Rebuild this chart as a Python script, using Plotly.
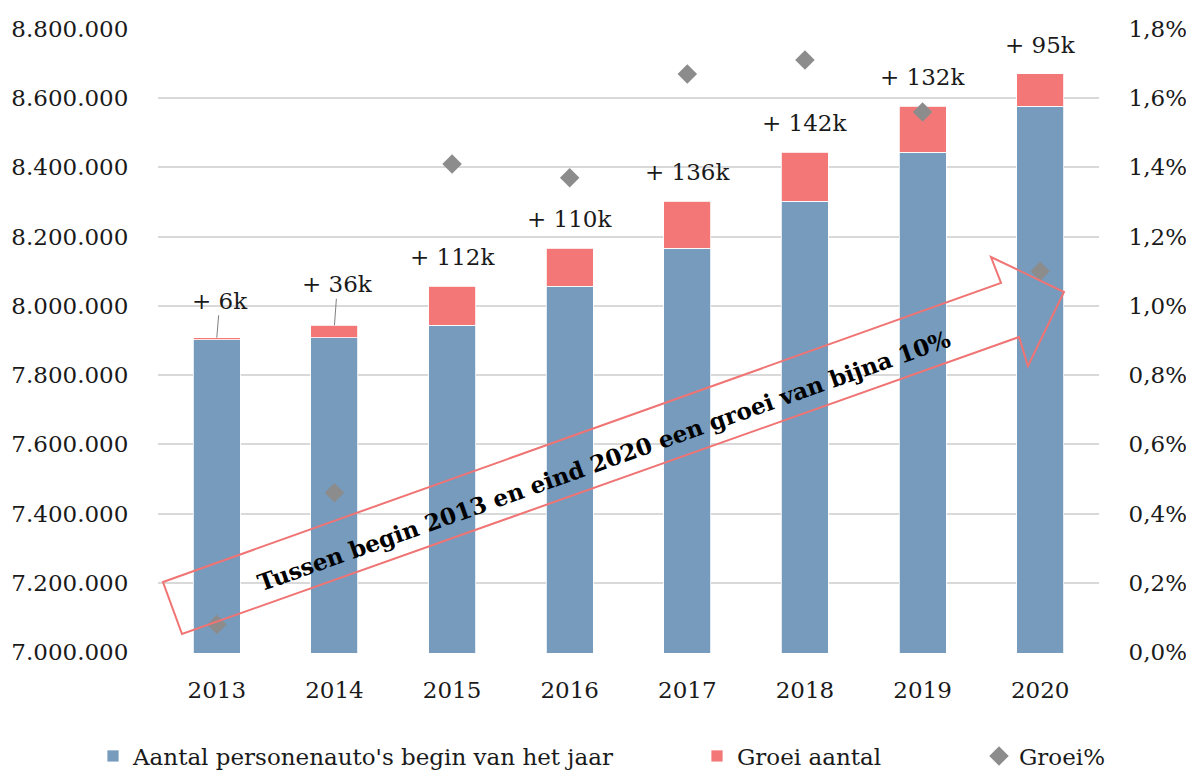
import plotly.graph_objects as go

years = [2013, 2014, 2015, 2016, 2017, 2018, 2019, 2020]
base_cars = [7902000, 7908000, 7944000, 8056000, 8166000, 8302000, 8444000, 8576000]
growth_cars = [6000, 36000, 112000, 110000, 136000, 142000, 132000, 95000]
growth_pct = [0.0008, 0.0046, 0.0141, 0.0137, 0.0167, 0.0171, 0.0156, 0.0110]
growth_labels = ["+ %dk" % round(g / 1000) for g in growth_cars]

FONT = "DejaVu Serif"
TXT = "#1a1a1a"
W, H = 1186, 771
L, R, T, B = 158, 87, 28, 118
PW, PH = W - L - R, H - T - B


def topaper(x, y):
    return (x - L) / PW, (H - B - y) / PH


fig = go.Figure()
fig.add_trace(go.Bar(
    x=years, y=base_cars, name="Aantal personenauto's begin van het jaar",
    width=0.4,
    marker=dict(color="#769bbd", line=dict(color="white", width=0.8)),
    legend="legend",
))
fig.add_trace(go.Bar(
    x=years, y=growth_cars, name="Groei aantal", width=0.4,
    marker=dict(color="#f47777", line=dict(color="white", width=0.8)),
    legend="legend2",
))
fig.add_trace(go.Scatter(
    x=years, y=growth_pct, name="Groei%", yaxis="y2", mode="markers",
    marker=dict(symbol="diamond", size=15, color="#8c8c8c"),
    legend="legend3",
))

annotations = []
tops = [b + g for b, g in zip(base_cars, growth_cars)]
for i, (yr, top, lab) in enumerate(zip(years, tops, growth_labels)):
    if i < 2:
        annotations.append(dict(
            x=yr, y=top, xref="x", yref="y", text=lab, showarrow=True,
            arrowhead=0, arrowwidth=1, arrowcolor="#7f7f7f",
            ax=3, ay=-37 if i == 0 else -41, standoff=0,
            font=dict(family=FONT, size=23, color=TXT)))
    else:
        annotations.append(dict(
            x=yr, y=top, xref="x", yref="y", text=lab, showarrow=False,
            yshift=29, font=dict(family=FONT, size=23, color=TXT)))

cx, cy = topaper(604, 460)
annotations.append(dict(
    x=cx, y=cy, xref="paper", yref="paper", showarrow=False,
    xanchor="center", yanchor="middle",
    text="<b>Tussen begin 2013 en eind 2020 een groei van bijna 10%</b>",
    textangle=-19.6, font=dict(family=FONT, size=23, color="black")))

arrow_pts = [(163, 582), (1001, 283), (991, 257), (1064, 292),
             (1028, 366), (1019, 337), (182, 634)]
path = "M " + " L ".join("%.4f,%.4f" % topaper(x, y) for x, y in arrow_pts) + " Z"

leg_common = dict(orientation="h", yanchor="middle", xanchor="left",
                  font=dict(family=FONT, size=23, color=TXT),
                  bgcolor="rgba(0,0,0,0)")
ly = topaper(0, 756)[1]

eps = 2500
fig.update_layout(
    width=W, height=H, barmode="stack",
    separators=",.", showlegend=True,
    paper_bgcolor="white", plot_bgcolor="white",
    margin=dict(l=L, r=R, t=T, b=B, autoexpand=False),
    font=dict(family=FONT, size=23, color=TXT),
    xaxis=dict(range=[2012.5, 2020.5], tickmode="array", tickvals=years,
               ticktext=[str(y) for y in years], automargin=False,
               showgrid=False, showline=False, zeroline=False,
               ticks="outside", ticklen=16, tickcolor="rgba(0,0,0,0)",
               tickfont=dict(family=FONT, size=23, color=TXT)),
    yaxis=dict(range=[7000000 - eps, 8800000 + eps], tickvals=list(range(7000000, 8800001, 200000)),
               tickformat=",d", automargin=False,
               showgrid=True, gridcolor="#d9d9d9", gridwidth=1.5,
               zeroline=False, showline=False,
               ticks="outside", ticklen=24, tickcolor="rgba(0,0,0,0)",
               tickfont=dict(family=FONT, size=23, color=TXT)),
    yaxis2=dict(range=[0 - eps / 1e8, 0.018 + eps / 1e8],
                tickvals=[i * 0.002 for i in range(10)], tickformat=".1%",
                overlaying="y", side="right", showgrid=False, automargin=False,
                zeroline=False, showline=False,
                ticks="outside", ticklen=24, tickcolor="rgba(0,0,0,0)",
                tickfont=dict(family=FONT, size=23, color=TXT)),
    legend=dict(x=topaper(93, 0)[0], y=ly, **leg_common),
    legend2=dict(x=topaper(697, 0)[0], y=ly, **leg_common),
    legend3=dict(x=topaper(979, 0)[0], y=ly, **leg_common),
    annotations=annotations,
    shapes=[dict(type="path", path=path, xref="paper", yref="paper",
                 line=dict(color="#f07474", width=2),
                 fillcolor="rgba(0,0,0,0)", layer="above")],
)

fig.write_html("out.html", config={"displayModeBar": False},
               post_script="document.body.style.margin='0';document.body.style.overflow='hidden';")
